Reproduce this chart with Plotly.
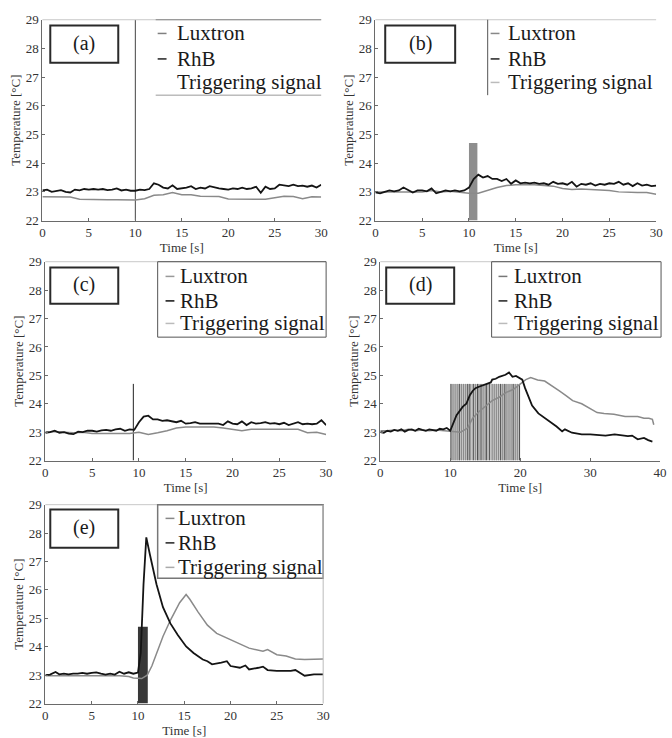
import numpy as np
import plotly.graph_objects as go

W, H = 672, 738

# ---------------- data ----------------
Y_MIN, Y_MAX = 22, 29
Y_TICKS = [22, 23, 24, 25, 26, 27, 28, 29]
X_TICKS_30 = [0, 5, 10, 15, 20, 25, 30]
X_TICKS_40 = [0, 10, 20, 30, 40]

T_HALF = np.arange(0, 30.01, 0.5)   # 0.5 s sample grid
T_ONE = np.arange(0, 30.01, 1.0)    # 1 s sample grid

# (a)
A_RHB = [23.05, 23.08, 23.0, 23.02, 23.06, 23.0, 22.98, 23.08, 23.05, 23.1, 23.08, 23.1, 23.08, 23.1,
         23.06, 23.08, 23.12, 23.05, 23.08, 23.04, 23.04, 23.08, 23.06, 23.1, 23.3, 23.25, 23.15, 23.12,
         23.23, 23.1, 23.12, 23.15, 23.2, 23.1, 23.15, 23.12, 23.2, 23.15, 23.12, 23.1, 23.08, 23.12,
         23.1, 23.15, 23.1, 23.12, 23.18, 22.97, 23.18, 23.1, 23.12, 23.25, 23.22, 23.2, 23.25, 23.2,
         23.22, 23.18, 23.22, 23.15, 23.25]
A_LUX = [22.83, 22.83, 22.83, 22.82, 22.74, 22.73, 22.73, 22.73, 22.73, 22.72, 22.72, 22.76, 22.88,
         22.9, 22.98, 22.9, 22.9, 22.85, 22.84, 22.84, 22.75, 22.74, 22.74, 22.74, 22.74, 22.8, 22.85,
         22.84, 22.76, 22.83, 22.82]
A_TRIG_T = 10.0

# (b)
B_RHB = [22.98, 22.95, 23.0, 23.05, 23.02, 23.05, 23.15, 23.05, 22.98, 23.05, 23.05, 23.02, 23.12,
         22.95, 23.0, 23.05, 23.02, 23.05, 23.02, 23.05, 23.15, 23.45, 23.6, 23.5, 23.55, 23.45, 23.45,
         23.38, 23.45, 23.28, 23.4, 23.3, 23.32, 23.3, 23.32, 23.28, 23.3, 23.25, 23.35, 23.28, 23.3,
         23.25, 23.35, 23.18, 23.28, 23.25, 23.3, 23.22, 23.28, 23.25, 23.3, 23.28, 23.35, 23.25, 23.3,
         23.2, 23.3, 23.22, 23.25, 23.2, 23.22]
B_LUX = [23.0, 23.0, 23.0, 23.02, 23.0, 23.0, 23.05, 23.0, 23.02, 22.98, 22.95, 22.95, 23.05, 23.15,
         23.22, 23.25, 23.25, 23.25, 23.22, 23.2, 23.12, 23.08, 23.1, 23.08, 23.05, 23.05, 23.0, 22.98,
         22.98, 22.98, 22.92]
B_TRIG_START, B_TRIG_END = 10.0, 10.9

# (c)
C_RHB = [22.98, 23.0, 23.05, 22.98, 23.0, 22.95, 22.93, 23.02, 23.0, 23.05, 23.05, 23.02, 23.06,
         23.08, 23.05, 23.1, 23.12, 23.05, 23.1, 23.08, 23.35, 23.55, 23.58, 23.45, 23.45, 23.4, 23.42,
         23.38, 23.35, 23.4, 23.3, 23.32, 23.35, 23.3, 23.3, 23.3, 23.28, 23.3, 23.25, 23.38, 23.3,
         23.28, 23.38, 23.25, 23.35, 23.3, 23.32, 23.35, 23.3, 23.32, 23.28, 23.33, 23.25, 23.3, 23.35,
         23.28, 23.3, 23.28, 23.3, 23.42, 23.25]
C_LUX = [23.0, 23.02, 23.0, 22.98, 23.0, 22.95, 22.95, 22.95, 22.95, 22.95, 23.0, 22.92, 22.98, 23.05,
         23.15, 23.18, 23.18, 23.18, 23.18, 23.15, 23.1, 23.05, 23.1, 23.1, 23.1, 23.1, 23.1, 23.1,
         22.98, 23.0, 22.92]
C_TRIG_T = 9.4

# (d)
D_RHB_T = [0, 0.5, 1, 1.5, 2, 2.5, 3, 3.5, 4, 4.5, 5, 5.5, 6, 6.5, 7, 7.5, 8, 8.5, 9, 9.5, 10,
           10.9, 11.8, 12.3, 12.8, 13.2, 13.6, 14.1, 14.6, 15.1, 15.8, 16, 16.5, 17, 17.5, 17.9,
           18.4, 18.9, 19.4, 19.8, 20.3, 20.7, 21.2, 21.7, 22.6, 23.6, 24.5, 25.2, 26, 26.4, 27.4,
           28.8, 30, 31.1, 32.2, 33.5, 34.5, 35.4, 36, 36.8, 37.7, 38.3, 38.9]
D_RHB_V = [23.0, 22.98, 23.05, 23.02, 23.08, 23.05, 23.1, 23.02, 23.08, 23.1, 23.05, 23.12, 23.08,
           23.05, 23.1, 23.08, 23.05, 23.12, 23.1, 23.15, 23.05,
           23.6, 23.9, 24.0, 24.3, 24.45, 24.55, 24.6, 24.65, 24.7, 24.75, 24.85, 24.88, 24.95, 24.98,
           25.02, 25.1, 24.95, 24.98, 24.92, 24.85, 24.55, 24.23, 23.94, 23.66, 23.49, 23.32, 23.2,
           23.03, 23.1, 22.98, 22.92, 22.92, 22.9, 22.88, 22.92, 22.9, 22.86, 22.88, 22.75, 22.8,
           22.72, 22.67]
D_LUX_T = [0, 1, 2, 3, 4, 5, 6, 7, 8, 9, 10, 11, 11.5, 12.5, 13.2, 14.1, 15.1, 16, 17, 18, 19, 20,
           20.8, 21.5, 22.5, 23.5, 24.5, 25.6, 26.6, 27.5, 28.8, 30, 31, 32, 33.4, 35, 36.8, 37.7,
           38.4, 38.9, 39.1]
D_LUX_V = [23.05, 23.05, 23.08, 23.05, 23.1, 23.05, 23.08, 23.05, 23.08, 23.05, 23.02, 23.0, 23.0,
           23.15, 23.49, 23.72, 23.92, 24.11, 24.23, 24.4, 24.5, 24.68, 24.85, 24.92, 24.84, 24.8,
           24.62, 24.45, 24.28, 24.11, 24.0, 23.83, 23.69, 23.66, 23.63, 23.55, 23.55, 23.49, 23.49,
           23.45, 23.26]
D_TRIG_START, D_TRIG_END = 10.0, 20.0
D_PULSES_DARK = [10.1, 11.3, 12.5, 12.8, 13.3, 13.9, 14.4, 15.2, 15.6, 17.2, 17.8, 19.0, 19.9]
D_PULSES_MID = [10.4, 10.7, 11.0, 11.6, 11.9, 12.2, 13.6, 14.1, 14.7, 15.0, 16.0, 16.3, 16.6, 16.9,
                17.5, 18.1, 18.4, 18.7, 19.3, 19.6]

# (e)
E_RHB_T = [0, 0.5, 1.1, 1.5, 2, 2.5, 3, 3.5, 4, 4.5, 5, 5.5, 6, 6.5, 7, 7.5, 8, 8.5, 9, 9.5, 10,
           10.3, 10.6, 10.9, 11.3, 12, 12.7, 13.5, 14.3, 15.2, 16, 17, 17.5, 18, 19, 19.6, 20, 21,
           21.6, 22, 23, 23.5, 24, 25, 26.5, 27, 28, 29, 30]
E_RHB_V = [23.0, 23.02, 23.11, 23.03, 23.05, 23.03, 23.05, 23.05, 23.08, 23.05, 23.08, 23.1, 23.05,
           23.02, 23.05, 23.02, 23.12, 23.05, 23.1, 23.05, 23.09,
           23.78, 26.2, 27.85, 27.23, 26.2, 25.39, 24.82, 24.41, 24.01, 23.78, 23.55, 23.49, 23.38,
           23.44, 23.49, 23.32, 23.26, 23.34, 23.2, 23.26, 23.3, 23.18, 23.15, 23.15, 23.18, 22.98,
           23.03, 23.03]
E_LUX_T = [0, 1, 2, 3, 4, 5, 6, 7, 8, 9, 9.5, 10.4, 11, 11.5, 12, 12.7, 13.5, 14.5, 15.2, 15.6,
           16.5, 17.5, 18.5, 20, 22, 23.5, 24, 25, 26, 27, 28, 30]
E_LUX_V = [22.98, 22.98, 22.98, 22.99, 22.98, 22.98, 22.98, 22.98, 22.98, 22.95, 22.9, 22.88, 23.0,
           23.32, 23.78, 24.36, 24.93, 25.55, 25.84, 25.67, 25.22, 24.76, 24.47, 24.24, 23.95, 23.84,
           23.9, 23.72, 23.67, 23.57, 23.55, 23.57]
E_TRIG_START, E_TRIG_END = 10.0, 11.06

TRIG_LEVEL = 24.7
PANEL_LABELS = ["(a)", "(b)", "(c)", "(d)", "(e)"]
LEGEND_NAMES = ["Luxtron", "RhB", "Triggering signal"]
X_TITLE = "Time [s]"
Y_TITLE = "Temperature [°C]"

for a, b in [(A_RHB, T_HALF), (B_RHB, T_HALF), (C_RHB, T_HALF), (A_LUX, T_ONE), (B_LUX, T_ONE),
             (C_LUX, T_ONE), (D_RHB_V, D_RHB_T), (D_LUX_V, D_LUX_T), (E_RHB_V, E_RHB_T),
             (E_LUX_V, E_LUX_T)]:
    assert len(a) == len(b), (len(a), len(b))

# ---------------- layout helpers ----------------
SERIF = "Liberation Serif"
RHB_COLOR = "#141414"
LUX_COLOR = "#8a8a8a"


def fx(px):
    return px / W


def fy(py):
    return 1 - py / H


# panel geometry in pixels: (left, right, top, bottom)
PANELS = [
    dict(box=(40, 323, 13, 218), xmax=30, xt=X_TICKS_30),
    dict(box=(378, 663, 13, 218), xmax=30, xt=X_TICKS_30),
    dict(box=(43, 328, 260, 463), xmax=30, xt=X_TICKS_30),
    dict(box=(383, 667, 260, 463), xmax=40, xt=X_TICKS_40),
    dict(box=(43, 325, 508, 711), xmax=30, xt=X_TICKS_30),
]

fig = go.Figure()
layout = dict(
    width=W, height=H, margin=dict(l=0, r=0, t=0, b=0, pad=0),
    paper_bgcolor="white", plot_bgcolor="white", showlegend=False,
    font=dict(family=SERIF, color="#222"),
)

for i, p in enumerate(PANELS):
    l, r, t, b = p["box"]
    n = "" if i == 0 else str(i + 1)
    layout["xaxis" + n] = dict(
        domain=[fx(l), fx(r)], anchor="y" + n, range=[0, p["xmax"]], tickvals=p["xt"],
        showline=True, linecolor="#6a6a6a", linewidth=1, ticks="inside", ticklen=3,
        tickcolor="#6a6a6a", showgrid=False, zeroline=False,
        tickfont=dict(family=SERIF, size=13, color="#333"),
        title=dict(text=X_TITLE, font=dict(family=SERIF, size=13, color="#333"), standoff=0),
    )
    layout["yaxis" + n] = dict(
        domain=[fy(b), fy(t)], anchor="x" + n, range=[Y_MIN, Y_MAX], tickvals=Y_TICKS,
        showline=True, linecolor="#6a6a6a", linewidth=1, ticks="inside", ticklen=3,
        tickcolor="#6a6a6a", showgrid=False, zeroline=False,
        tickfont=dict(family=SERIF, size=13, color="#333"),
        title=dict(text=Y_TITLE, font=dict(family=SERIF, size=13, color="#333"), standoff=2),
    )


def xy(i):
    n = "" if i == 0 else str(i + 1)
    return dict(xaxis="x" + n, yaxis="y" + n)


def add_bar(i, x0, x1, color):
    fig.add_trace(go.Scatter(x=[x0, x0, x1, x1, x0], y=[Y_MIN, TRIG_LEVEL, TRIG_LEVEL, Y_MIN, Y_MIN],
                             fill="toself", fillcolor=color, mode="lines", line=dict(width=0, color=color),
                             name=LEGEND_NAMES[2], hoverinfo="skip", **xy(i)))


def add_vlines(i, xs, top, color, width):
    X, Y = [], []
    for v in xs:
        X += [v, v, None]
        Y += [Y_MIN, top, None]
    fig.add_trace(go.Scatter(x=X, y=Y, mode="lines", line=dict(color=color, width=width),
                             name=LEGEND_NAMES[2], hoverinfo="skip", **xy(i)))


# (a)
add_vlines(0, [A_TRIG_T], Y_MAX, "#444", 1)
fig.add_trace(go.Scatter(x=T_ONE, y=A_LUX, mode="lines", line=dict(color=LUX_COLOR, width=1.5),
                         name=LEGEND_NAMES[0], **xy(0)))
fig.add_trace(go.Scatter(x=T_HALF, y=A_RHB, mode="lines", line=dict(color=RHB_COLOR, width=1.8),
                         name=LEGEND_NAMES[1], **xy(0)))
# (b)
add_bar(1, B_TRIG_START, B_TRIG_END, "#8e8e8e")
fig.add_trace(go.Scatter(x=T_ONE, y=B_LUX, mode="lines", line=dict(color=LUX_COLOR, width=1.5),
                         name=LEGEND_NAMES[0], **xy(1)))
fig.add_trace(go.Scatter(x=T_HALF, y=B_RHB, mode="lines", line=dict(color=RHB_COLOR, width=1.8),
                         name=LEGEND_NAMES[1], **xy(1)))
# (c)
add_vlines(2, [C_TRIG_T], TRIG_LEVEL, "#222", 1)
fig.add_trace(go.Scatter(x=T_ONE, y=C_LUX, mode="lines", line=dict(color=LUX_COLOR, width=1.5),
                         name=LEGEND_NAMES[0], **xy(2)))
fig.add_trace(go.Scatter(x=T_HALF, y=C_RHB, mode="lines", line=dict(color=RHB_COLOR, width=1.8),
                         name=LEGEND_NAMES[1], **xy(2)))
# (d)
add_bar(3, D_TRIG_START, D_TRIG_END, "#c4c4c4")
add_vlines(3, D_PULSES_MID, TRIG_LEVEL, "#8a8a8a", 1)
add_vlines(3, D_PULSES_DARK, TRIG_LEVEL, "#505050", 1)
fig.add_trace(go.Scatter(x=D_LUX_T, y=D_LUX_V, mode="lines", line=dict(color=LUX_COLOR, width=1.5),
                         name=LEGEND_NAMES[0], **xy(3)))
fig.add_trace(go.Scatter(x=D_RHB_T, y=D_RHB_V, mode="lines", line=dict(color=RHB_COLOR, width=1.8),
                         name=LEGEND_NAMES[1], **xy(3)))
# (e)
add_bar(4, E_TRIG_START, E_TRIG_END, "#383838")
fig.add_trace(go.Scatter(x=E_LUX_T, y=E_LUX_V, mode="lines", line=dict(color=LUX_COLOR, width=1.5),
                         name=LEGEND_NAMES[0], **xy(4)))
fig.add_trace(go.Scatter(x=E_RHB_T, y=E_RHB_V, mode="lines", line=dict(color=RHB_COLOR, width=1.8),
                         name=LEGEND_NAMES[1], **xy(4)))

# ---------------- decorations: panel labels and legend blocks ----------------
shapes, annotations = [], []


def line_px(x0, y0, x1, y1, color, width):
    shapes.append(dict(type="line", xref="paper", yref="paper", x0=fx(x0), y0=fy(y0),
                       x1=fx(x1), y1=fy(y1), line=dict(color=color, width=width)))


def rect_px(x0, y0, x1, y1, color, width):
    shapes.append(dict(type="rect", xref="paper", yref="paper", x0=fx(x0), y0=fy(y0),
                       x1=fx(x1), y1=fy(y1), line=dict(color=color, width=width),
                       fillcolor="rgba(0,0,0,0)"))


def text_px(x, y, s, size, xanchor="left"):
    annotations.append(dict(xref="paper", yref="paper", x=fx(x), y=fy(y), text=s, showarrow=False,
                            xanchor=xanchor, yanchor="middle", borderpad=0,
                            font=dict(family=SERIF, size=size, color="#1a1a1a")))


# faint top borders of the panels
for p in PANELS:
    l, r, t, b = p["box"]
    line_px(l, t, r, t, "#c8c8c8", 1)

# label boxes (left, top, right, bottom)
LABEL_BOXES = [(48, 19, 117, 57), (388, 19, 459, 57), (48, 266, 117, 303), (389, 266, 458, 303),
               (48, 513, 117, 552)]
for lab, (x0, y0, x1, y1) in zip(PANEL_LABELS, LABEL_BOXES):
    rect_px(x0, y0, x1, y1, "#2a2a2a", 2)
    text_px((x0 + x1) / 2, (y0 + y1) / 2 - 1, lab, 20, xanchor="center")

# legends: dash start x, text x, row ys, dash colors
LEGENDS = [
    dict(dx=157, tx=176, ys=(27, 53, 77), cols=("#808080", "#222", None)),
    dict(dx=495, tx=512, ys=(27, 53, 77), cols=("#888", "#222", "#bbb")),
    dict(dx=165, tx=179, ys=(275, 300, 323), cols=("#999", "#111", "#bbb")),
    dict(dx=503, tx=518, ys=(275, 300, 323), cols=("#777", "#222", "#bbb")),
    dict(dx=165, tx=177, ys=(522, 547, 572), cols=("#888", "#222", "#aaa")),
]
for lg in LEGENDS:
    for name, yy, col in zip(LEGEND_NAMES, lg["ys"], lg["cols"]):
        if col:
            line_px(lg["dx"], yy, lg["dx"] + 9, yy, col, 1.5)
        text_px(lg["tx"], yy, name, 21)

# legend frames
line_px(155, 13, 323, 13, "#888", 1)
line_px(155, 90, 323, 90, "#999", 1)
line_px(492, 13, 492, 90, "#555", 1)
rect_px(157, 260, 328, 337, "#555", 1)
rect_px(496, 260, 668, 337, "#555", 1)
rect_px(157, 508, 325, 583, "#777", 1.5)
# faint right border of panel (e)
line_px(325, 508, 325, 711, "#bbb", 1)

layout["shapes"] = shapes
layout["annotations"] = annotations
fig.update_layout(**layout)
fig.write_html(
    "out.html",
    config={"displayModeBar": False},
    post_script="document.body.style.margin='0';document.body.style.overflow='hidden';",
)
